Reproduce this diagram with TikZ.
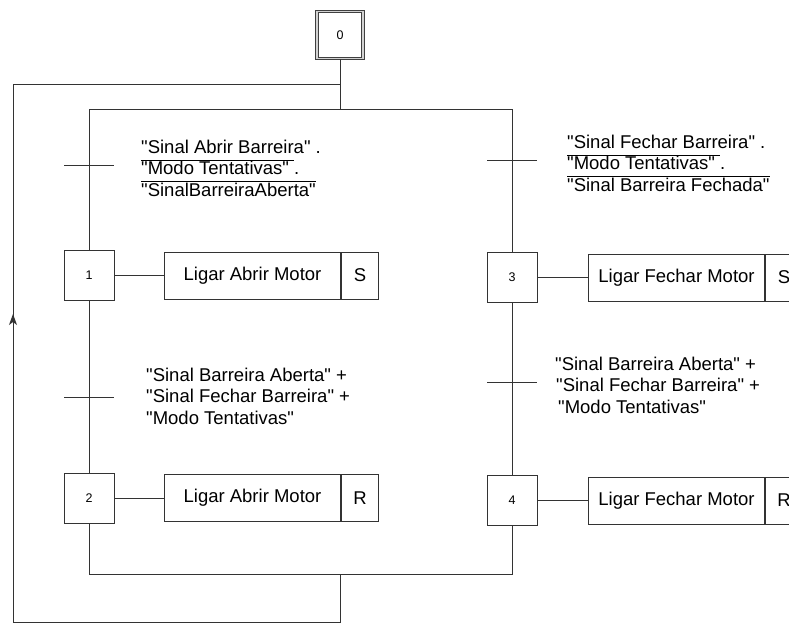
\documentclass[tikz,border=0pt]{standalone}
\usepackage{fontspec}
\setmainfont{Liberation Sans}[Ligatures=TeXOff]
\usepackage{tikz}
\usetikzlibrary{calc}
\usetikzlibrary{arrows.meta}
\tikzset{linha/.style={black!80, line width=1pt},
  etapa/.style={draw=black!80, line width=1pt, minimum width=50, minimum height=50, inner sep=0, font=\fontsize{12.5}{14}\selectfont},
  acao/.style={draw=black!80, line width=1pt, minimum height=47, inner sep=0, anchor=west, font=\fontsize{18.5}{21}\selectfont},
  cond/.style={align=left, anchor=west, inner sep=0, font=\fontsize{18.5}{21.5}\selectfont}}
\newcommand{\aspas}[1]{"#1"}
\newcommand{\negado}[1]{$\overline{\mbox{#1}}$}

\begin{document}
\begin{tikzpicture}[x=1pt,y=-1pt]
\clip (0,0) rectangle (789,624);
\node[etapa, minimum width=46, minimum height=47, draw=black!75, double=gray!35, double distance=1.5pt] (e0) at (340,35) {0};
\foreach \n/\x/\y in {1/89/275, 2/89/498, 3/512/277, 4/512/500} {
  \node[etapa] (e\n) at (\x,\y) {\n};
}
\foreach \n/\x/\y/\t/\q in {1/164/275.5/Abrir/S, 2/164/498/Abrir/R, 3/588/277.5/Fechar/S, 4/588/500.5/Fechar/R} {
  \node[acao, minimum width=176] (a\n) at (\x,\y) {Ligar \t\ Motor};
  \node[acao, minimum width=37] (q\n) at (a\n.east) {\q};
  \draw[linha] (e\n.east) -- (e\n.east -| a\n.west);
}
\coordinate (topo) at (340,84);
\coordinate (div) at (340,109);
\coordinate (d1) at (89,109);
\coordinate (d3) at (512,109);
\coordinate (c2) at (89,574);
\coordinate (c4) at (512,574);
\coordinate (conv) at (340,574);
\coordinate (base) at (340,622);
\coordinate (bl) at (13,622);
\coordinate (tl) at (13,84);
\coordinate (seta) at (13,314);
\draw[linha] (e0) -- (div);
\draw[linha] (d1) -- (d3);
\draw[linha] (d1) -- (e1);
\draw[linha] (d3) -- (e3);
\draw[linha] (e1) -- (e2);
\draw[linha] (e3) -- (e4);
\draw[linha] (e2.south) -- (c2) -- (c4) -- (e4.south);
\draw[linha] (conv) -- (base) -- (bl) -- (tl) -- (topo);
\draw[linha,-{Stealth[length=11pt,width=8pt,inset=3pt]}] (bl) -- (seta);
\foreach \n/\x/\y in {1/89/165, 2/89/397, 3/512/160, 4/512/382} {
  \coordinate (t\n) at (\x,\y);
  \draw[linha] (t\n) ++(-25,0) -- ++(50,0);
}
\node[cond] (c1) at (141,168) {\aspas{Sinal Abrir Barreira} .\\\negado{\aspas{Modo Tentativas} }.\\\negado{\aspas{SinalBarreiraAberta}}};
\node[cond] (c3) at (567,163) {\aspas{Sinal Fechar Barreira} .\\\negado{\aspas{Modo Tentativas} }.\\\negado{\aspas{Sinal Barreira Fechada}}};
\node[cond] (c2t) at (146,396) {\aspas{Sinal Barreira Aberta} +\\\aspas{Sinal Fechar Barreira} +\\\aspas{Modo Tentativas}};
\node[cond] (c4t) at (555,385) {\aspas{Sinal Barreira Aberta} +\\\hspace*{1pt}\aspas{Sinal Fechar Barreira} +\\\hspace*{3pt}\aspas{Modo Tentativas}};
\end{tikzpicture}
\end{document}
